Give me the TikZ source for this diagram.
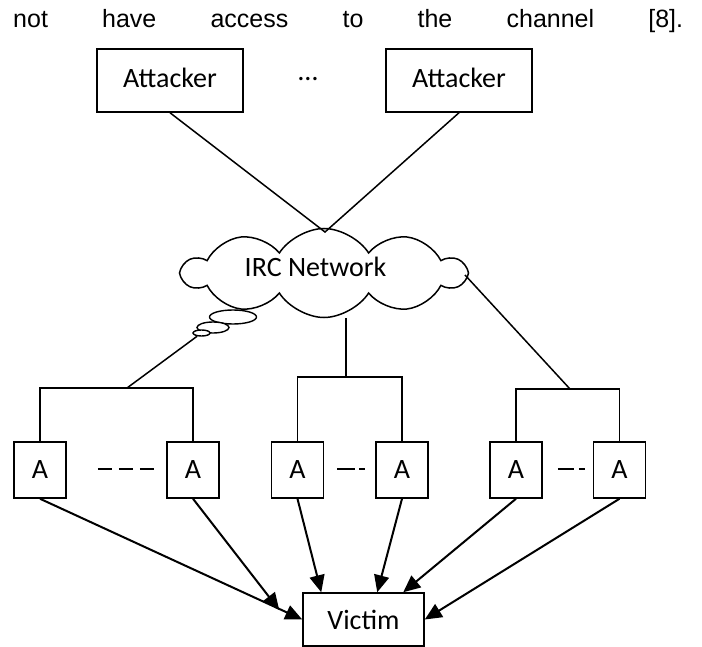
\documentclass[tikz,border=0pt]{standalone}
\usepackage{fontspec}
\setmainfont{Carlito}
\newfontfamily\arialf{Liberation Sans}
\usetikzlibrary{shapes.symbols,shapes.geometric,arrows.meta,calc}
\begin{document}
\begin{tikzpicture}[x=1pt,y=-1pt,
  lbl/.style={font=\fontsize{28}{34}\selectfont},
  box/.style={draw,line width=1.5pt,inner sep=0pt,lbl},
  attbox/.style={box,minimum width=146pt,minimum height=63pt,text height=21pt,text depth=6pt},
  abox/.style={box,minimum width=52pt,minimum height=56pt},
  bubble/.style={draw,ellipse,line width=1.4pt,fill=white,inner sep=0pt},
  wire/.style={line width=1.5pt},
  arr/.style={line width=2pt,-{Triangle[length=17pt,width=15pt]}},
]
\useasboundingbox (0,0) rectangle (702,647);

% running text
\node[anchor=base west,inner sep=0pt,font=\arialf\fontsize{25}{30}\selectfont] (txt) at (13,28)
  {\hbox to 670pt{not\hfill have\hfill access\hfill to\hfill the\hfill channel\hfill [8].}};

% attackers
\node[attbox] (att1) at (170,80.5) {Attacker};
\node[attbox] (att2) at (459,80.5) {Attacker};
\node[lbl,anchor=base,inner sep=0pt] (dots) at (308,81) {…};

% cloud
\node[cloud,draw,line width=1.5pt,cloud puffs=10,cloud puff arc=115,aspect=3.3,
      minimum width=282pt,minimum height=89pt,inner sep=0pt] (irc) at (324,273) {};
\node[lbl,inner sep=0pt] (irct) at (315.5,266.5) {IRC Network};

% thought bubbles
\node[bubble,minimum width=47pt,minimum height=14pt] (b1) at (233,317) {};
\node[bubble,minimum width=32pt,minimum height=11pt] (b2) at (213,327.5) {};
\node[bubble,minimum width=17pt,minimum height=6pt] (b3) at (201.5,333) {};

% agents
\node[abox] (a1) at (40,470) {\raisebox{-3pt}{A}};
\node[abox] (a2) at (193,470) {\raisebox{-3pt}{A}};
\node[abox] (a3) at (297.5,470) {\raisebox{-3pt}{A}};
\node[abox] (a4) at (402,470) {\raisebox{-3pt}{A}};
\node[abox] (a5) at (516,470) {\raisebox{-3pt}{A}};
\node[abox] (a6) at (619.5,470) {\raisebox{-3pt}{A}};

% victim
\node[box,minimum width=121pt,minimum height=53pt] (v) at (363.5,619.5) {Victim};

% junction coordinates
\coordinate (ctop) at (325,232);
\coordinate (cbot) at (346,318);
\coordinate (cright) at (465,275);
\coordinate (lj) at (127,388);
\coordinate (mj) at (346,377);
\coordinate (rj) at (570,389);

% attackers to cloud
\draw[wire] (att1.south) -- (ctop) -- (att2.south);

% cloud to groups
\draw[wire] (b3) -- (lj);
\draw[wire] (a1.north) |- (lj) -| (a2.north);
\draw[wire] (cbot) -- (mj);
\draw[wire] (a3.north) |- (mj) -| (a4.north);
\draw[wire] (cright) -- (rj);
\draw[wire] (a5.north) |- (rj) -| (a6.north);

% dashes between agents
\draw[wire,dash pattern=on 14pt off 7pt] ($(a1.east)+(31,-1)$) -- ++(56,0);
\draw[wire,dash pattern=on 18pt off 4pt on 6pt off 50pt] ($(a3.east)+(13,-1)$) -- ++(28,0);
\draw[wire,dash pattern=on 16pt off 5pt on 6pt off 50pt] ($(a5.east)+(15,-1)$) -- ++(27,0);

% arrows to victim
\draw[arr] (a1.south) -- (v.west);
\draw[arr] (a2.south) -- ($(v.west)+(-23,-9.5)$);
\draw[arr] (a3.south) -- ($(v.north west)+(19,0)$);
\draw[arr] (a4.south) -- ($(v.north west)+(75,0)$);
\draw[arr] (a5.south) -- ($(v.north west)+(101,0)$);
\draw[arr] (a6.south) -- (v.east);
\end{tikzpicture}
\end{document}
